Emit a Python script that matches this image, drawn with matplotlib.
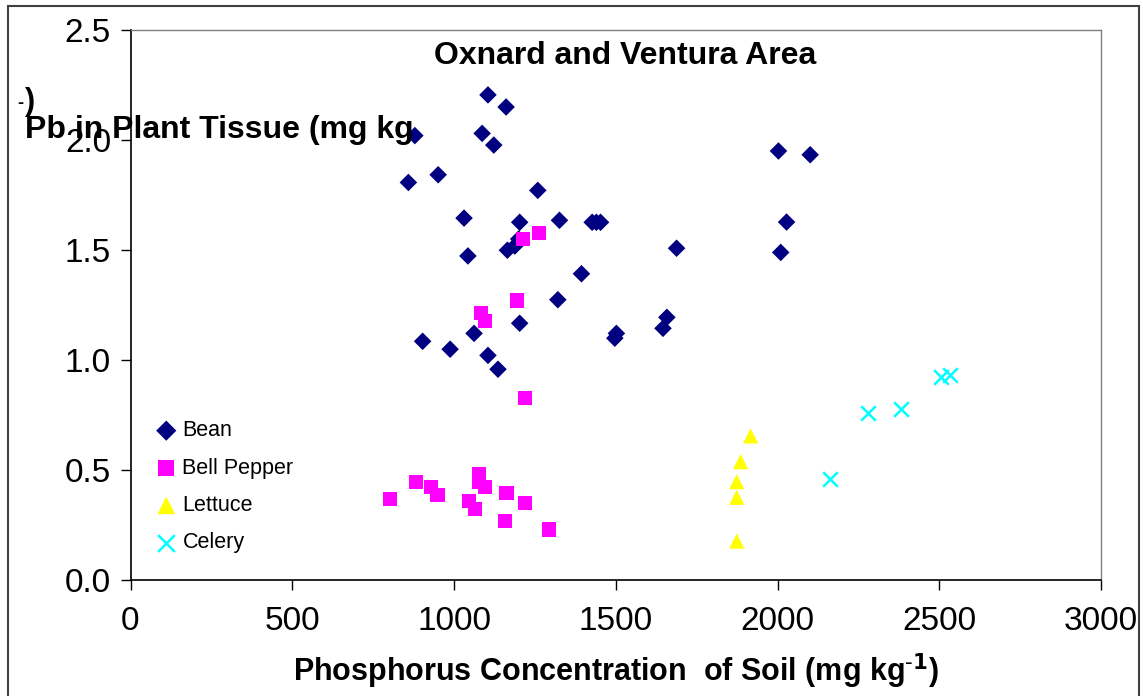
import numpy as np
import matplotlib
matplotlib.use("Agg")
from matplotlib import pyplot as pl
from matplotlib.patches import Rectangle

pl.rcParams['font.family'] = ['Liberation Sans', 'DejaVu Sans']

# Bean
bean_x = [1105, 1161, 879, 1087, 1123, 859, 951, 1259, 1031, 1203, 1326,
          1427, 1440, 1453, 1043, 1165, 1188, 1200, 1688, 1394, 1321,
          1203, 1062, 903, 988, 1105, 1136, 1502, 1497, 1658, 1646,
          2003, 2101, 2028, 2010]
bean_y = [2.205, 2.15, 2.02, 2.03, 1.977, 1.807, 1.842, 1.771, 1.645, 1.626, 1.635,
          1.626, 1.626, 1.626, 1.473, 1.499, 1.518, 1.55, 1.508, 1.392, 1.274,
          1.167, 1.121, 1.085, 1.049, 1.021, 0.958, 1.121, 1.099, 1.194, 1.144,
          1.95, 1.933, 1.627, 1.489]

# Bell Pepper
pep_x = [1213, 1262, 1194, 1084, 1096, 1219, 802, 882, 930, 949, 1078, 1078,
         1095, 1047, 1065, 1162, 1219, 1157, 1293]
pep_y = [1.549, 1.576, 1.27, 1.215, 1.179, 0.826, 0.367, 0.447, 0.421, 0.385,
         0.482, 0.447, 0.421, 0.359, 0.321, 0.394, 0.349, 0.268, 0.230]

# Lettuce
let_x = [1917, 1886, 1874, 1874, 1874]
let_y = [0.655, 0.538, 0.447, 0.376, 0.177]

# Celery
cel_x = [2163, 2280, 2383, 2506, 2532]
cel_y = [0.461, 0.759, 0.777, 0.924, 0.930]

W, H = 1143, 696
fig = pl.figure(figsize=(W/100, H/100), dpi=100)
ax = fig.add_axes([130.5/W, (H-580)/H, (1101-130.5)/W, 550/H])

ax.scatter(bean_x, bean_y, marker='D', s=80, c='#000080', edgecolors='none', label='Bean', zorder=3)
ax.scatter(pep_x, pep_y, marker='s', s=105, c='#FF00FF', edgecolors='none', label='Bell Pepper', zorder=3)
ax.scatter(let_x, let_y, marker='^', s=120, c='#FFFF00', edgecolors='none', label='Lettuce', zorder=3)
ax.scatter(cel_x, cel_y, marker='x', s=110, c='#00FFFF', linewidths=1.8, label='Celery', zorder=3)

ax.set_xlim(0, 3000)
ax.set_ylim(0, 2.5)
ax.set_xticks(np.arange(0, 3001, 500))
ax.set_yticks(np.arange(0, 2.51, 0.5))
ax.set_yticklabels(['%.1f' % v for v in np.arange(0, 2.51, 0.5)])
ax.tick_params(direction='out', length=7, width=1, labelsize=24)
ax.tick_params(axis='y', pad=7)
ax.tick_params(axis='x', pad=12)

for s in ['left', 'bottom']:
    ax.spines[s].set_color('black')
    ax.spines[s].set_linewidth(1.2)
for s in ['top', 'right']:
    ax.spines[s].set_color('#808080')
    ax.spines[s].set_linewidth(1)

ax.text(0.51, 0.98, 'Oxnard and Ventura Area', transform=ax.transAxes,
        ha='center', va='top', fontsize=23, fontweight='bold')

ax.set_xlabel('Phosphorus Concentration  of Soil (mg kg$^{\\text{-}\\mathbf{1}}$)',
              fontsize=22, fontweight='bold', labelpad=10)

# y label drawn horizontally, as in the source
fig.text(25/W, 1-138/H, 'Pb in Plant Tissue (mg kg', fontsize=23, fontweight='bold',
         ha='left', va='baseline')
fig.text(17/W, 1-108/H, '-', fontsize=13, fontweight='bold', ha='left', va='baseline')
fig.text(25/W, 1-110/H, ')', fontsize=22, fontweight='bold', ha='left', va='baseline')

ax.legend(loc='upper left', bbox_to_anchor=(11/970.5, 0.306), frameon=False,
          fontsize=15.5, labelspacing=0.76, handletextpad=0.0, handlelength=1.5,
          markerscale=1.15, borderaxespad=0)

fig.patches.append(Rectangle((8/W, -0.05), (1139-8)/W, 1.05-6/H,
                             transform=fig.transFigure, fill=False,
                             edgecolor='#404040', linewidth=1.5))

fig.savefig('out.png', dpi=100)
